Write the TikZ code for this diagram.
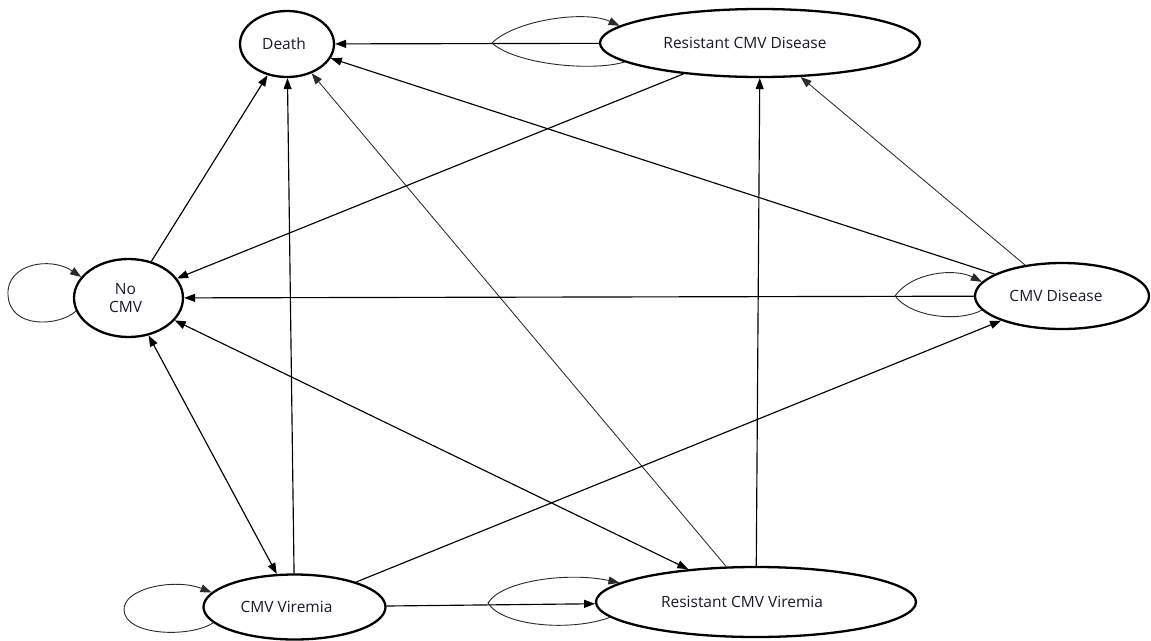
\documentclass[tikz,border=0pt]{standalone}
\usepackage{fontspec}
\setmainfont{Open Sans}
\usetikzlibrary{arrows.meta,shapes.geometric}
\definecolor{txt}{HTML}{1A1A26}
\definecolor{thin}{HTML}{2A2A2A}
\begin{document}
\begin{tikzpicture}[x=1pt,y=-1pt,
  state/.style={ellipse,draw=black,line width=2.3pt,inner sep=0pt,fill=white},
  lbl/.style={font=\fontsize{15.5}{18.5}\selectfont,text=txt,align=center},
  tip/.tip={Triangle[length=11pt,width=8pt]},
  tr/.style={line width=1.15pt,-tip},
  trthin/.style={line width=0.85pt,draw=thin,-tip},
  trboth/.style={line width=1.15pt,tip-tip},
  loopy/.style={line width=0.9pt,draw=thin,-tip}
]
\useasboundingbox (0,0) rectangle (1151,640);

\node[state,minimum width=94pt,minimum height=66pt,
  label={[lbl,xshift=-3pt]center:Death}] (death) at (287,44) {};
\node[state,minimum width=320pt,minimum height=68pt,
  label={[lbl,xshift=-15pt]center:Resistant CMV Disease}] (rcd) at (760,43) {};
\node[state,minimum width=109pt,minimum height=78pt,
  label={[lbl,xshift=-3pt]center:No\\CMV}] (nocmv) at (128.5,298) {};
\node[state,minimum width=174pt,minimum height=66pt,
  label={[lbl,xshift=-6pt]center:CMV Disease}] (cmvd) at (1062,296) {};
\node[state,minimum width=182pt,minimum height=65pt,
  label={[lbl,xshift=-8pt]center:CMV Viremia}] (cmvv) at (294.5,607) {};
\node[state,minimum width=320pt,minimum height=70pt,
  label={[lbl,xshift=-14pt]center:Resistant CMV Viremia}] (rcv) at (756,602) {};

\draw[tr] (rcd) -- (death);
\draw[tr] (rcd) -- (nocmv);
\draw[tr] (nocmv) -- (death);
\draw[tr] (cmvv) -- (death);
\draw[trthin] (rcv) -- (death);
\draw[tr] (cmvd) -- (death);
\draw[trthin] (cmvd) -- (rcd);
\draw[tr] (rcv) -- (rcd);
\draw[tr] (cmvd) -- (nocmv);
\draw[tr] (cmvv) -- (cmvd);
\draw[trboth] (nocmv) -- (cmvv);
\draw[trboth] (nocmv) -- (rcv);
\draw[tr] (cmvv) -- (rcv);

% self loops
\draw[loopy] (rcd.188) .. controls (590,72) and (515,64) .. (492,43)
  .. controls (515,20) and (585,10) .. (rcd.173);
\draw[loopy] (cmvd.190) .. controls (960,322) and (912,318) .. (895,296)
  .. controls (912,272) and (955,268) .. (cmvd.170);
\draw[loopy] (nocmv.194) .. controls (60,326) and (10,330) .. (8,295)
  .. controls (6,264) and (50,256) .. (nocmv.156);
\draw[loopy] (cmvv.191) .. controls (190,638) and (125,636) .. (124,610)
  .. controls (123,588) and (175,578) .. (cmvv.170);
\draw[loopy] (rcv.186) .. controls (570,632) and (502,626) .. (488,603)
  .. controls (502,580) and (570,572) .. (rcv.172);
\end{tikzpicture}
\end{document}
